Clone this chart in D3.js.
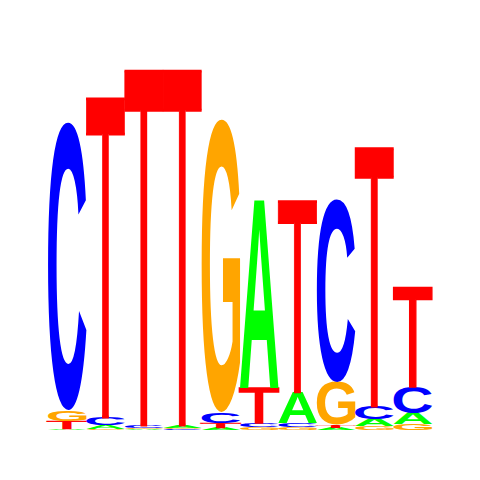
<!DOCTYPE html>
<html lang="en">
<head>
    <meta charset="UTF-8">
    <title>Sequence logo</title>
    <style type="text/css">
        body { margin: 0; background: #fff; }
        svg { display: block; }
        /* T's stem is a bit thicker in the reference than the regular glyph */
        .letter-T {
            stroke: #ff0000;
            stroke-width: 2;
            vector-effect: non-scaling-stroke;
        }
    </style>
</head>
<body>
    <svg></svg>

    <script src="https://d3js.org/d3.v7.min.js"></script>
    <script>
        // information content (bits) per position
        var positions = [1, 2, 3, 4, 5, 6, 7, 8, 9, 10];
        var bitsA = [0.005, 0.02, 0.005, 0.015, 0.01, 0.94, 0.155, 0.01, 0.035, 0.055];
        var bitsC = [1.44, 0.04, 0.015, 0.005, 0.055, 0.02, 0.02, 0.915, 0.065, 0.13];
        var bitsG = [0.055, 0.005, 0.005, 0.005, 1.465, 0.015, 0.015, 0.215, 0.02, 0.03];
        var bitsT = [0.04, 1.595, 1.775, 1.775, 0.025, 0.175, 0.955, 0.015, 1.29, 0.49];

        var colors = { A: "#00ff00", C: "#0000ff", G: "#ffa500", T: "#ff0000" };
        // T in the reference has a thin crossbar, so it uses the regular weight
        var fonts = {
            A: "bold 200px 'Liberation Sans'",
            C: "bold 200px 'Liberation Sans'",
            G: "bold 200px 'Liberation Sans'",
            T: "normal 200px 'Liberation Sans'"
        };

        var svgWidth = 480
        var svgHeight = 480

        var svg = d3.select("svg")
            .attr("width", svgWidth)
            .attr("height", svgHeight)

        var x = d3.scaleBand().domain(positions).range([48, 432]).padding(0)
        var y = d3.scaleLinear().domain([0, 2]).range([430, 30])

        // find the ink box of each glyph by drawing it and scanning the pixels
        function inkBox(l) {
            var c = document.createElement("canvas")
            c.width = 400
            c.height = 400
            var ctx = c.getContext("2d")
            ctx.font = fonts[l]
            ctx.fillStyle = "#000"
            ctx.fillText(l, 100, 300)
            var px = ctx.getImageData(0, 0, 400, 400).data
            var x0 = 400, x1 = 0, y0 = 400, y1 = 0
            for (var j = 0; j < 400; j++) {
                for (var i = 0; i < 400; i++) {
                    if (px[(j * 400 + i) * 4 + 3] > 127) {
                        if (i < x0) x0 = i
                        if (i > x1) x1 = i
                        if (j < y0) y0 = j
                        if (j > y1) y1 = j
                    }
                }
            }
            return { left: 100 - x0, w: x1 - x0 + 1, asc: 300 - y0, h: y1 - y0 + 1 }
        }
        var ink = {}
        "ACGT".split("").forEach(function(l) { ink[l] = inkBox(l) })

        // build stacks: smallest at the bottom
        var letters = []
        positions.forEach(function(p, i) {
            var col = [
                { l: "A", v: bitsA[i] },
                { l: "C", v: bitsC[i] },
                { l: "G", v: bitsG[i] },
                { l: "T", v: bitsT[i] }
            ].sort(function(a, b) { return a.v - b.v })
            var base = 0
            col.forEach(function(d) {
                letters.push({ pos: p, l: d.l, y0: base, y1: base + d.v })
                base += d.v
            })
        })

        svg.selectAll("text.letter")
            .data(letters)
            .enter()
            .append("text")
            .attr("class", function(d) { return "letter letter-" + d.l })
            .style("font", function(d) { return fonts[d.l] })
            .attr("fill", function(d) { return colors[d.l] })
            .attr("transform", function(d) {
                var g = ink[d.l]
                var top = y(d.y1)
                var h = y(d.y0) - y(d.y1)
                var sx = x.bandwidth() / g.w
                var sy = h / g.h
                return "translate(" + x(d.pos) + "," + top + ") scale(" + sx + "," + sy + ") translate(" + g.left + "," + g.asc + ")"
            })
            .text(function(d) { return d.l })
    </script>
</body>
</html>
